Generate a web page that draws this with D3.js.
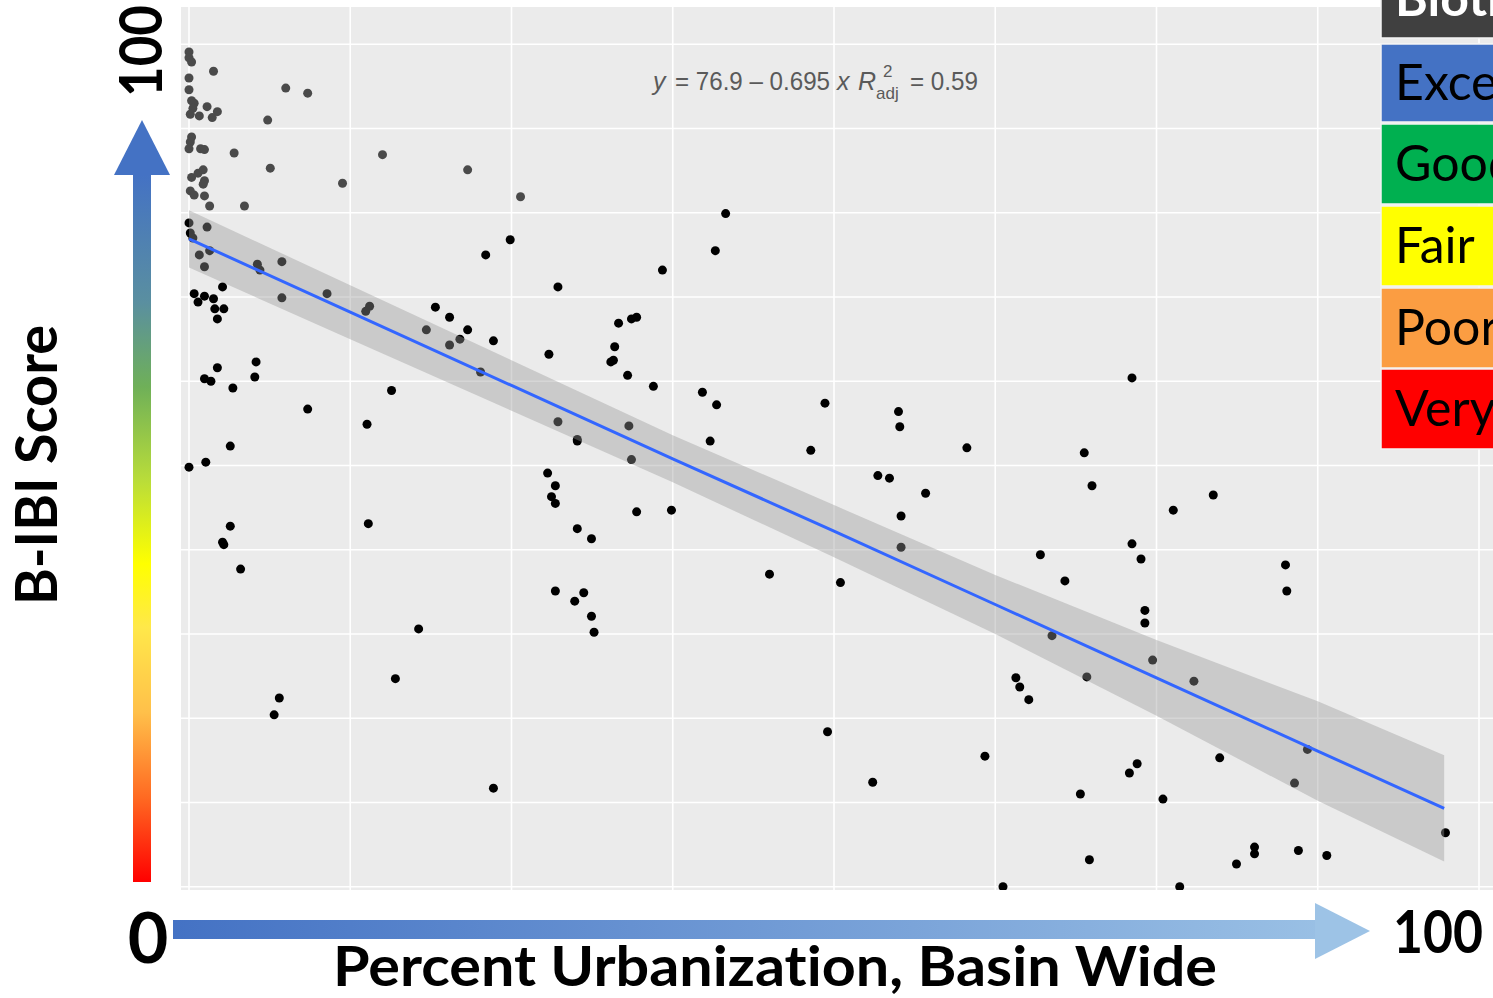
<!DOCTYPE html>
<html>
<head>
<meta charset="utf-8">
<script src="https://cdn.jsdelivr.net/npm/d3@7"></script>
<style>
  body { margin: 0; background: #fff; }
  svg { display: block; }
  text { font-variant-ligatures: none; font-feature-settings: "liga" 0; }
</style>
</head>
<body>
<svg id="chart" width="1493" height="998"></svg>
<script>
// percent urbanization (basin wide) and B-IBI score for each site
const urbanPct = [
  0, 0, 0.2, 1.9, 0, 0, 0.2, 0.4, 0.3, 0.1, 0.8, 1.4, 1.8, 2.2, 7.5, 9.2, 6.1,
  0.2, 0.1, 0, 0.9, 1.2, 3.5, 15.0, 6.3, 21.6, 11.9, 0.2, 0.7, 1.1, 1.2, 1.1,
  0.1, 0.4, 1.2, 1.6, 4.3, 25.7, 41.6,
  0, 1.4, 0.1, 0.3, 1.6, 0.8, 1.2, 5.3, 5.5, 7.2, 2.6, 7.2, 10.7, 13.7, 14.0,
  0.4, 0.7, 1.2, 1.9, 2.0, 2.7, 2.2, 23.0, 24.9, 19.1, 20.2, 18.4, 21.6, 21.0,
  20.2, 23.6, 22.6, 2.2, 1.2, 1.7, 3.4, 5.2, 5.1, 9.2, 15.7, 13.8, 3.2, 1.3, 0,
  3.2, 2.6, 2.7, 4.0, 13.9, 17.8, 16.0, 7.0, 6.6, 23.6,
  27.8, 28.4, 28.1, 28.4, 30.1, 31.2, 28.4, 30.6, 29.9, 31.2, 31.4, 30.1, 34.3,
  36.7, 40.8, 28.6, 27.9, 33.3, 34.3, 34.7, 33.0, 32.7, 32.9, 34.0, 36.0, 39.8,
  40.9, 49.3, 48.2, 40.4, 28.6, 30.1, 34.1, 34.7, 37.4, 45.0, 50.5,
  55.0, 55.1, 60.3, 73.1, 69.4, 70.0, 53.4, 54.3, 57.1, 55.2, 55.2, 79.4, 76.3,
  73.1, 73.8, 66.0, 67.9, 74.1, 74.1, 66.9, 74.7, 69.6, 77.9, 64.1, 64.4, 65.1,
  79.9, 49.5, 61.7, 53.0, 73.5, 72.9, 69.1, 75.5, 69.8, 63.1, 76.8, 81.2,
  85.0, 85.1, 86.7, 85.7, 82.6, 82.6, 86.0, 88.2, 97.4
];
const bibiScore = [
  99.1, 98.4, 97.9, 96.8, 96.0, 94.6, 93.3, 93.0, 92.4, 91.7, 91.5, 92.6, 91.3,
  92.0, 94.8, 94.2, 91.0, 89.0, 88.4, 87.6, 87.6, 87.5, 87.1, 86.9, 85.3, 85.1,
  83.5, 84.2, 84.7, 85.1, 83.8, 83.4, 82.6, 82.1, 82.0, 80.8, 80.8, 81.9, 79.9,
  78.8, 78.3, 77.6, 77.0, 75.5, 75.0, 73.6, 73.9, 73.2, 74.2, 71.2, 69.9, 70.4,
  68.3, 68.9, 70.4, 69.4, 70.1, 69.8, 68.6, 68.6, 67.4, 75.0, 76.8, 68.8, 67.6,
  66.1, 66.1, 65.0, 64.3, 64.8, 61.1, 61.6, 60.3, 60.0, 59.2, 62.3, 60.5, 56.7,
  58.9, 54.9, 52.3, 50.4, 49.8, 42.8, 40.9, 40.6, 37.7, 43.1, 30.6, 24.7, 22.4,
  20.4, 11.7,
  49.1, 47.6, 46.3, 45.5, 42.5, 41.3, 35.1, 34.9, 33.9, 32.1, 30.2, 52.9, 50.7,
  73.2, 75.5, 71.2, 63.2, 66.9, 67.4, 67.6, 64.1, 62.3, 62.5, 60.7, 59.4, 58.7,
  57.2, 57.4, 51.8, 52.9, 55.2, 53.1, 54.7, 44.5, 44.7, 37.1, 36.1,
  56.4, 54.6, 52.1, 60.4, 51.5, 47.6, 48.8, 48.5, 46.7, 44.0, 40.3, 46.5, 44.7,
  40.7, 38.9, 39.4, 36.3, 32.8, 31.3, 29.8, 26.9, 24.9, 24.4, 24.8, 23.7, 22.2,
  15.3, 18.4, 15.5, 12.4, 14.6, 13.5, 11.0, 10.4, 3.2, 0, 0, 2.7,
  38.2, 35.1, 16.3, 12.3, 4.7, 3.9, 4.3, 3.7, 6.4
];

// fitted smoother and its confidence band
const smoothX  = [0, 12.5, 25, 37.5, 50, 62.5, 75, 87.5, 97.3];
const smoothY  = [76.9, 68.2, 59.5, 50.8, 42.2, 33.5, 24.8, 16.1, 9.3];
const smoothLo = [73.5, 65.0, 56.5, 48.0, 39.1, 30.0, 20.3, 10.2, 3.0];
const smoothHi = [80.3, 71.4, 62.5, 53.6, 45.3, 37.0, 29.3, 22.0, 15.6];

const xGrid = [0, 12.5, 25, 37.5, 50, 62.5, 75, 87.5, 100];
const yGrid = [0, 10, 20, 30, 40, 50, 60, 70, 80, 90, 100];

const ratingLabels = ["Biotic Integrity", "Excellent", "Good", "Fair", "Poor", "Very Poor"];
const ratingColors = ["#404040", "#4472C4", "#00B050", "#FFFF00", "#FB9D42", "#FF0000"];

const svg = d3.select("#chart");
const width = +svg.attr("width");

const x = d3.scaleLinear().domain([0, 100]).range([189, 1479]);
const y = d3.scaleLinear().domain([0, 100]).range([886.7, 44.3]);

const panel = { left: 181, top: 7, right: width, bottom: 890 };

const defs = svg.append("defs");
defs.append("clipPath").attr("id", "panelClip")
    .append("rect")
    .attr("x", panel.left).attr("y", panel.top)
    .attr("width", panel.right - panel.left)
    .attr("height", panel.bottom - panel.top);

// vertical arrow gradient, red at bottom to blue at top
const vGrad = defs.append("linearGradient")
    .attr("id", "vGrad")
    .attr("gradientUnits", "userSpaceOnUse")
    .attr("x1", 0).attr("y1", 882).attr("x2", 0).attr("y2", 175);
[[0, "#FF0000"], [0.12, "#FF6A22"], [0.24, "#FFC04A"], [0.36, "#FFE84A"],
 [0.45, "#FFFF00"], [0.57, "#B8DC3A"], [0.7, "#6FB058"], [0.82, "#5A8FA0"],
 [1, "#4472C4"]].forEach(function(s) {
    vGrad.append("stop").attr("offset", s[0]).attr("stop-color", s[1]);
});

const hGrad = defs.append("linearGradient")
    .attr("id", "hGrad")
    .attr("gradientUnits", "userSpaceOnUse")
    .attr("x1", 173).attr("y1", 0).attr("x2", 1370).attr("y2", 0);
hGrad.append("stop").attr("offset", 0).attr("stop-color", "#4472C4");
hGrad.append("stop").attr("offset", 1).attr("stop-color", "#9DC3E6");

// panel
svg.append("rect")
    .attr("x", panel.left).attr("y", panel.top)
    .attr("width", panel.right - panel.left)
    .attr("height", panel.bottom - panel.top)
    .attr("fill", "#EBEBEB");

const plot = svg.append("g").attr("clip-path", "url(#panelClip)");

plot.selectAll(".hgrid").data(yGrid).enter().append("line")
    .attr("class", "hgrid")
    .attr("x1", panel.left).attr("x2", panel.right)
    .attr("y1", d => y(d)).attr("y2", d => y(d))
    .attr("stroke", "#fff").attr("stroke-width", 1.6);

plot.selectAll(".vgrid").data(xGrid).enter().append("line")
    .attr("class", "vgrid")
    .attr("y1", panel.top).attr("y2", panel.bottom)
    .attr("x1", d => x(d)).attr("x2", d => x(d))
    .attr("stroke", "#fff").attr("stroke-width", 1.6);

// points
plot.selectAll(".pt").data(urbanPct).enter().append("circle")
    .attr("class", "pt")
    .attr("cx", d => x(d))
    .attr("cy", (d, i) => y(bibiScore[i]))
    .attr("r", 4.5)
    .attr("fill", (d, i) => bibiScore[i] > 80 ? "#4a4a4a" : "#000");

// confidence ribbon + fitted line
const smooth = smoothX.map((d, i) => ({ x: d, y: smoothY[i], lo: smoothLo[i], hi: smoothHi[i] }));

plot.append("path")
    .datum(smooth)
    .attr("d", d3.area().x(d => x(d.x)).y0(d => y(d.lo)).y1(d => y(d.hi)))
    .attr("fill", "#999999")
    .attr("fill-opacity", 0.4);

plot.append("path")
    .datum(smooth)
    .attr("d", d3.line().x(d => x(d.x)).y(d => y(d.y)))
    .attr("fill", "none")
    .attr("stroke", "#3366FF")
    .attr("stroke-width", 3);

// equation label
const eq = svg.append("text")
    .attr("y", 90)
    .attr("fill", "#5a5a5a")
    .attr("font-family", "'Liberation Sans Narrow', 'Liberation Sans', Arial, sans-serif")
    .attr("font-size", 25);
eq.append("tspan").attr("x", 653).attr("font-style", "italic").text("y");
eq.append("tspan").attr("x", 675).attr("textLength", 155).attr("lengthAdjust", "spacingAndGlyphs").text("= 76.9 \u2013 0.695");
eq.append("tspan").attr("x", 837).attr("font-style", "italic").text("x");
eq.append("tspan").attr("x", 858).attr("font-style", "italic").text("R");
eq.append("tspan").attr("x", 883).attr("y", 77).attr("font-size", 17).text("2");
eq.append("tspan").attr("x", 876).attr("y", 99).attr("font-size", 17).text("adj");
eq.append("tspan").attr("x", 910).attr("y", 90).attr("textLength", 68).attr("lengthAdjust", "spacingAndGlyphs").text("= 0.59");

// vertical arrow
svg.append("rect")
    .attr("x", 133).attr("y", 174)
    .attr("width", 18).attr("height", 708)
    .attr("fill", "url(#vGrad)");
svg.append("path")
    .attr("d", "M142,120 L170,175 L114,175 Z")
    .attr("fill", "#4472C4");

// horizontal arrow
svg.append("rect")
    .attr("x", 173).attr("y", 920)
    .attr("width", 1143).attr("height", 19)
    .attr("fill", "url(#hGrad)");
svg.append("path")
    .attr("d", "M1315,903 L1370,931 L1315,959 Z")
    .attr("fill", "#9DC3E6");

// axis words
const bold = "Lato, Carlito, Calibri, 'Open Sans', sans-serif";

svg.append("text")
    .attr("transform", "translate(162,51) rotate(-90)")
    .attr("text-anchor", "middle")
    .attr("font-family", bold).attr("font-weight", 700)
    .attr("font-size", 60)
    .attr("textLength", 92).attr("lengthAdjust", "spacingAndGlyphs")
    .text("100");

svg.append("text")
    .attr("transform", "translate(57,465) rotate(-90)")
    .attr("text-anchor", "middle")
    .attr("font-family", bold).attr("font-weight", 700)
    .attr("font-size", 58)
    .attr("textLength", 280).attr("lengthAdjust", "spacingAndGlyphs")
    .text("B-IBI Score");

svg.append("text")
    .attr("x", 148).attr("y", 963)
    .attr("text-anchor", "middle")
    .attr("font-family", bold).attr("font-weight", 700)
    .attr("font-size", 70)
    .text("0");

svg.append("text")
    .attr("x", 1438).attr("y", 953)
    .attr("text-anchor", "middle")
    .attr("font-family", bold).attr("font-weight", 700)
    .attr("font-size", 60)
    .attr("textLength", 90).attr("lengthAdjust", "spacingAndGlyphs")
    .text("100");

svg.append("text")
    .attr("x", 775).attr("y", 986)
    .attr("text-anchor", "middle")
    .attr("font-family", bold).attr("font-weight", 700)
    .attr("font-size", 56)
    .attr("textLength", 884).attr("lengthAdjust", "spacingAndGlyphs")
    .text("Percent Urbanization, Basin Wide");

// rating boxes on the right
const boxTops = [-40, 44, 124, 206, 288, 369];
const boxH = [78, 78, 80, 80, 80, 80];
const legend = svg.append("g");
legend.selectAll("rect").data(ratingLabels).enter().append("rect")
    .attr("x", 1381)
    .attr("y", (d, i) => boxTops[i])
    .attr("width", 140)
    .attr("height", (d, i) => boxH[i])
    .attr("fill", (d, i) => ratingColors[i])
    .attr("stroke", "#f4f4f4")
    .attr("stroke-width", 1.5);
legend.selectAll("text").data(ratingLabels).enter().append("text")
    .attr("x", 1395)
    .attr("y", (d, i) => boxTops[i] + boxH[i] / 2 + 17)
    .attr("font-family", bold)
    .attr("font-weight", (d, i) => i === 0 ? 700 : 400)
    .attr("font-size", 50)
    .attr("fill", (d, i) => i === 0 ? "#fff" : "#000")
    .text(d => d);
</script>
</body>
</html>
